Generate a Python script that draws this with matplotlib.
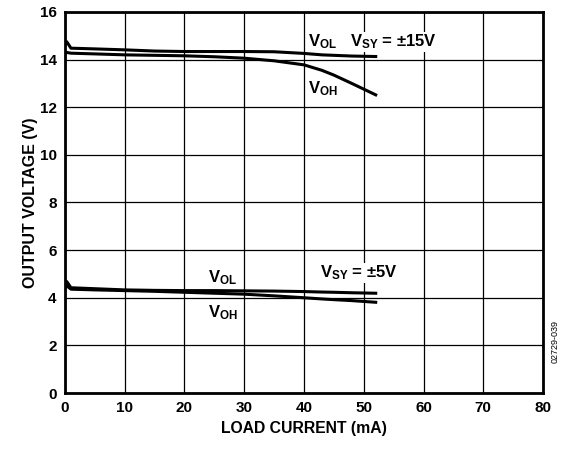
import matplotlib
matplotlib.use("Agg")
import matplotlib.pyplot as plt

plt.rcParams["font.family"] = ["Liberation Sans", "DejaVu Sans"]
plt.rcParams["mathtext.fontset"] = "custom"
plt.rcParams["mathtext.rm"] = "Liberation Sans:bold"
plt.rcParams["mathtext.bf"] = "Liberation Sans:bold"
plt.rcParams["mathtext.it"] = "Liberation Sans:bold"

# Load current (mA)
load_ma = [0, 0.3, 1, 5, 10, 15, 20, 25, 30, 35, 40, 43, 45, 48, 52]

# +/-15 V supply
vol_15 = [14.6, 14.75, 14.48, 14.45, 14.41, 14.36, 14.34, 14.34, 14.34, 14.33, 14.26, 14.2, 14.18, 14.15, 14.13]
voh_15 = [14.3, 14.3, 14.27, 14.24, 14.2, 14.18, 14.16, 14.12, 14.06, 13.95, 13.78, 13.55, 13.35, 13.0, 12.52]

# +/-5 V supply
vol_5 = [4.5, 4.68, 4.42, 4.38, 4.33, 4.31, 4.30, 4.30, 4.29, 4.28, 4.26, 4.24, 4.23, 4.21, 4.19]
voh_5 = [4.4, 4.5, 4.36, 4.33, 4.30, 4.27, 4.23, 4.19, 4.15, 4.08, 4.0, 3.95, 3.92, 3.88, 3.81]

x_ticks = [0, 10, 20, 30, 40, 50, 60, 70, 80]
y_ticks = [0, 2, 4, 6, 8, 10, 12, 14, 16]

fig = plt.figure(figsize=(5.64, 4.49), dpi=100)
ax = fig.add_axes([0.1152, 0.1247, 0.8476, 0.8486])

for series in (vol_15, voh_15, vol_5, voh_5):
    ax.plot(load_ma, series, color="black", linewidth=2.2)

ax.set_xlim(0, 80)
ax.set_ylim(0, 16)
ax.set_xticks(x_ticks)
ax.set_yticks(y_ticks)
ax.grid(True, color="black", linewidth=0.9)
ax.set_axisbelow(True)
ax.tick_params(length=0, labelsize=11, pad=6)
for lbl in ax.get_xticklabels() + ax.get_yticklabels():
    lbl.set_fontweight("bold")
for sp in ax.spines.values():
    sp.set_linewidth(2)

ax.set_xlabel("LOAD CURRENT (mA)", fontsize=11.3, fontweight="bold", labelpad=4)
ax.set_ylabel("OUTPUT VOLTAGE (V)", fontsize=11.5, fontweight="bold", labelpad=1)

box = dict(facecolor="white", edgecolor="none", pad=0.5)
# curve labels
ax.text(40.7, 14.55, r"$\mathrm{V_{OL}}$", fontsize=12, bbox=box)
ax.text(47.7, 14.55, r"$\mathrm{V_{SY}}$ = ±15V", fontsize=12, fontweight="bold", bbox=box)
ax.text(40.7, 12.6, r"$\mathrm{V_{OH}}$", fontsize=12)
ax.text(24.0, 4.65, r"$\mathrm{V_{OL}}$", fontsize=12)
ax.text(42.7, 4.85, r"$\mathrm{V_{SY}}$ = ±5V", fontsize=12, fontweight="bold", bbox=box)
ax.text(24.0, 3.2, r"$\mathrm{V_{OH}}$", fontsize=12)

fig.text(0.985, 0.24, "02729-039", rotation=90, fontsize=6.5, ha="center", va="center")

fig.savefig("out.png", dpi=100)
